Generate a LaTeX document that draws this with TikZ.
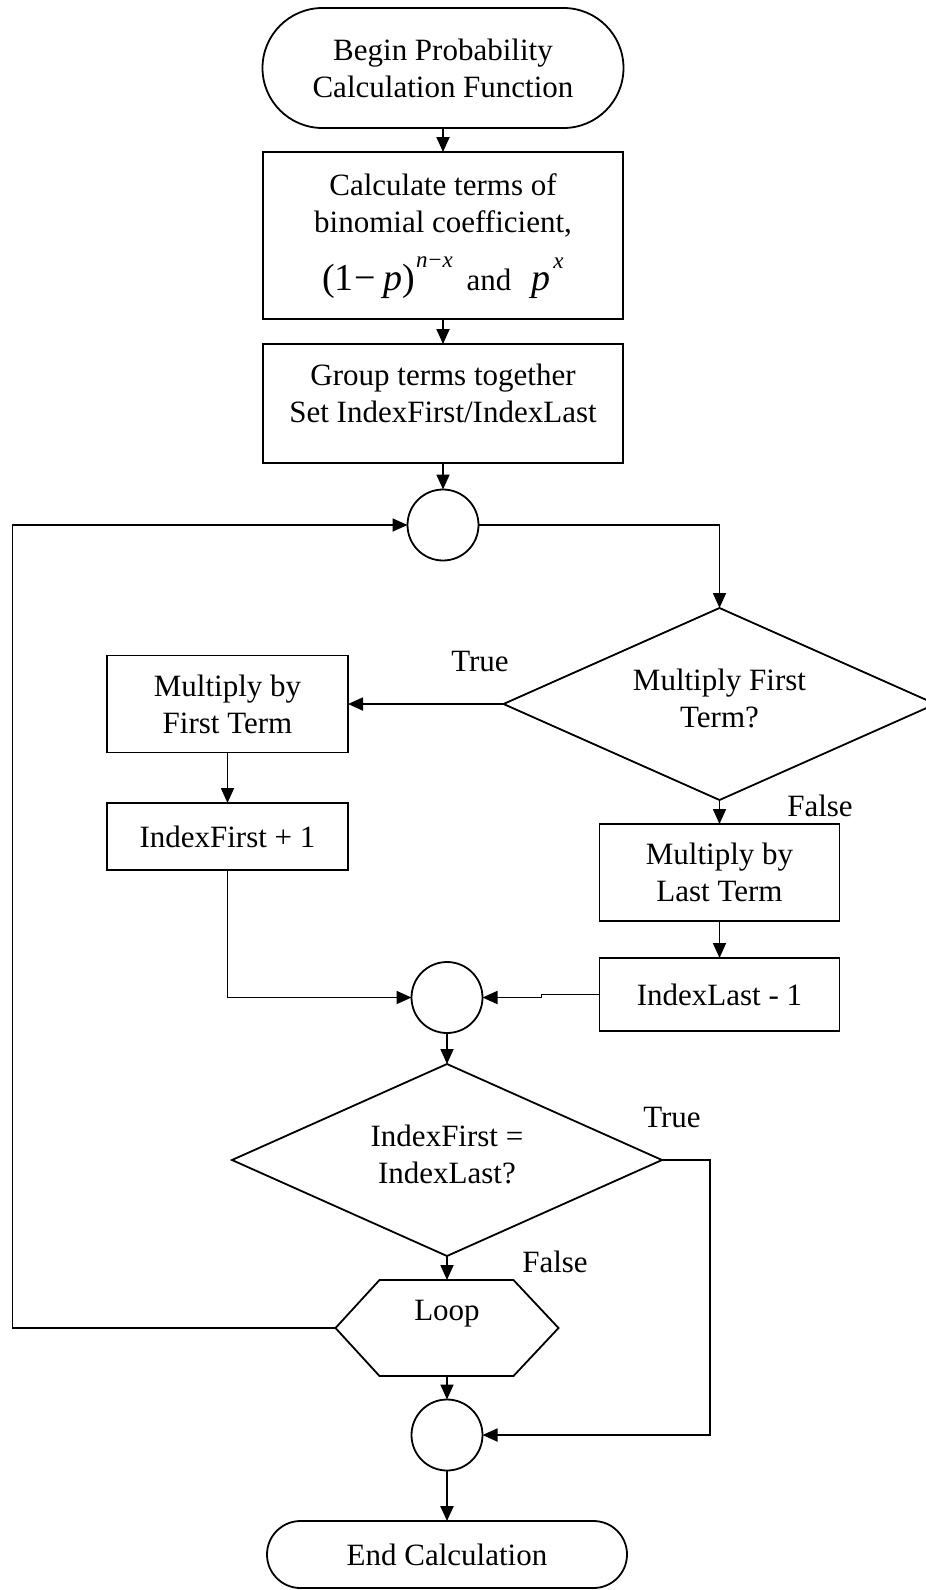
\documentclass[tikz,border=0pt]{standalone}
\usepackage{fontspec}
\setmainfont{Liberation Serif}
\usetikzlibrary{arrows.meta,shapes.geometric,shapes.misc}
\begin{document}
\begin{tikzpicture}[x=1pt,y=-1pt,
  font=\fontsize{31}{37}\selectfont,
  every node/.style={inner sep=0pt, outer sep=0pt},
  line/.style={line width=1.8pt},
  flow/.style={line width=1.8pt, -{Triangle[length=15pt,width=13pt]}},
  box/.style={draw, line width=1.8pt, align=center},
  term/.style={draw, line width=1.8pt, rounded rectangle, align=center},
  junction/.style={draw, line width=1.8pt, circle, minimum size=71pt},
  decision/.style={draw, line width=1.8pt, diamond, align=center, aspect=2.2},
  hexframe/.style={minimum width=223pt, minimum height=96pt},
  tag/.style={anchor=center}
]
\useasboundingbox (0,0) rectangle (926,1590);

% main column
\node[term, minimum width=361pt, minimum height=120pt] (begin) at (443,68)
  {Begin Probability\\Calculation Function};
\node[box, minimum width=360pt, minimum height=167pt] (calc) at (443,235.5)
  {Calculate terms of\\binomial coefficient,\\[18pt]%
   {\fontsize{38}{40}\selectfont(1\kern1pt−\kern7pt\textit{p})}%
   \raisebox{23pt}{\fontsize{23}{24}\selectfont\kern1pt\textit{n}\kern1pt−\kern1pt\textit{x}}%
   \kern14pt and\kern20pt{\fontsize{38}{40}\selectfont\textit{p}}%
   \raisebox{22pt}{\fontsize{23}{24}\selectfont\kern3pt\textit{x}}\\[-30pt]};
\node[box, minimum width=360pt, minimum height=119pt] (group) at (443,403.5)
  {Group terms together\\Set IndexFirst/IndexLast\\[-17pt]};
\node[junction] (c1) at (443,525) {};

% first decision and its branches
\node[decision, minimum width=432pt, minimum height=192pt] (d1) at (719.5,704)
  {Multiply First\\Term?\\[-25pt]};
\node[box, minimum width=241pt, minimum height=97pt] (mfirst) at (227.5,704)
  {Multiply by\\First Term};
\node[box, minimum width=241pt, minimum height=67pt] (ifirst) at (227.5,836.5)
  {IndexFirst + 1};
\node[box, minimum width=240pt, minimum height=97pt] (mlast) at (719.5,872.5)
  {Multiply by\\Last Term};
\node[box, minimum width=240pt, minimum height=73pt] (ilast) at (719.5,994.5)
  {IndexLast - 1};
\node[junction] (c2) at (447,997.5) {};

% second decision, loop and end
\node[decision, minimum width=430pt, minimum height=192pt] (d2) at (447,1160)
  {IndexFirst =\\IndexLast?\\[-25pt]};
\node[hexframe] (loop) at (447,1328) {};
\draw[line] (loop.west) -- ([xshift=44pt]loop.north west) -- ([xshift=-45pt]loop.north east)
  -- (loop.east) -- ([xshift=-45pt]loop.south east) -- ([xshift=44pt]loop.south west) -- cycle;
\node (looptext) at (447,1314) {Loop};
\node[junction] (c3) at (447,1435) {};
\node[term, minimum width=360pt, minimum height=67pt] (end) at (447,1554.5)
  {End Calculation};

% branch labels
\node[tag] (t1) at (480,661) {True};
\node[tag] (f1) at (820,806) {False};
\node[tag] (t2) at (672,1117) {True};
\node[tag] (f2) at (555,1262) {False};

% connectors
\draw[flow] (begin.south) -- (calc.north);
\draw[flow] (calc.south) -- (group.north);
\draw[flow] (group.south) -- (c1.north);
\draw[flow] (c1.east) -| (d1.north);
\draw[flow] (d1.west) -- (mfirst.east);
\draw[flow] (mfirst.south) -- (ifirst.north);
\draw[flow] (ifirst.south) |- (c2.west);
\draw[flow] (d1.south) -- (mlast.north);
\draw[flow] (mlast.south) -- (ilast.north);
\draw[flow] (ilast.west) -- ++(-58,0) |- (c2.east);
\draw[flow] (c2.south) -- (d2.north);
\draw[flow] (d2.east) -- ++(48,0) |- (c3.east);
\draw[flow] (d2.south) -- (loop.north);
\draw[flow] (loop.west) -- ++(-323,0) |- (c1.west);
\draw[flow] (loop.south) -- (c3.north);
\draw[flow, line width=2.4pt] (c3.south) -- (end.north);
\end{tikzpicture}
\end{document}
